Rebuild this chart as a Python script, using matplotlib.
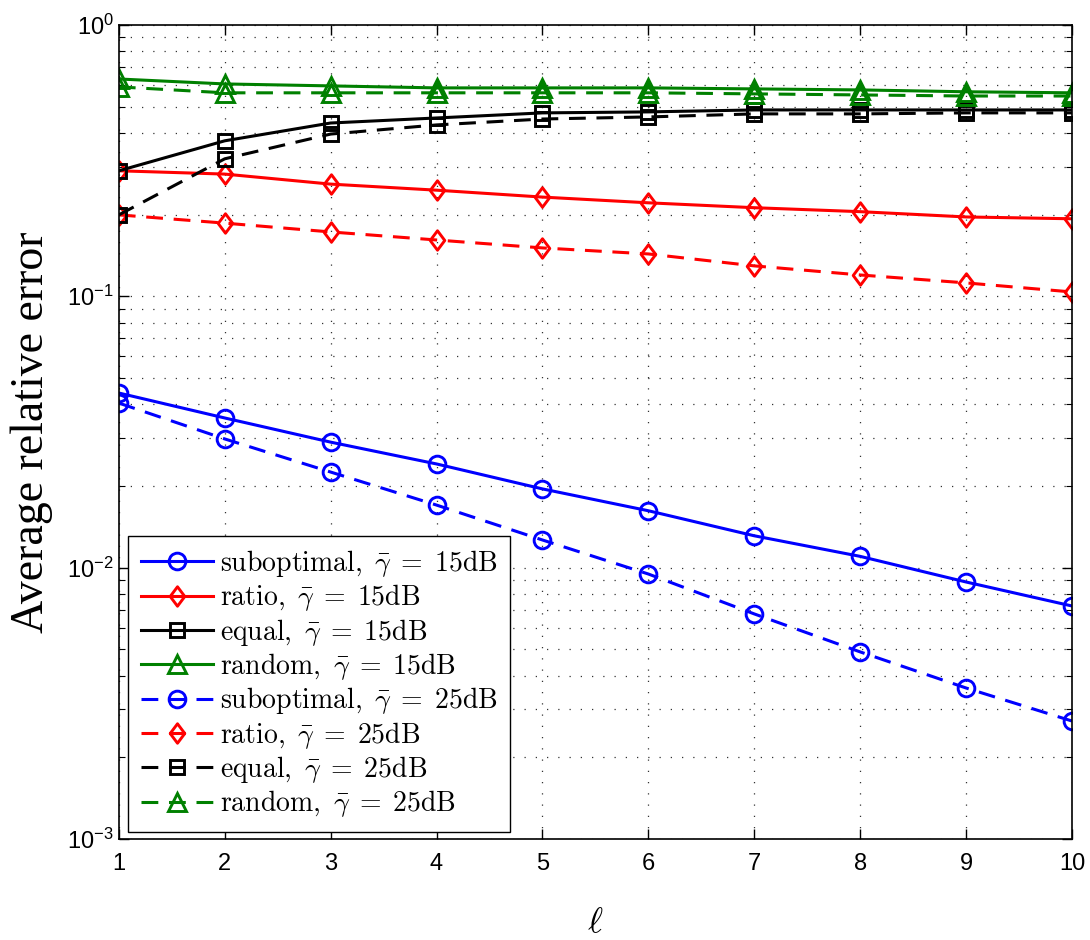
import matplotlib
matplotlib.use('Agg')
import matplotlib.pyplot as plt
from matplotlib.path import Path
import numpy as np

plt.rcParams['font.family'] = ['Liberation Sans', 'DejaVu Sans']
plt.rcParams['mathtext.fontset'] = 'cm'

# data
ell = [1, 2, 3, 4, 5, 6, 7, 8, 9, 10]

subopt_15 = [0.0440, 0.0356, 0.0290, 0.0241, 0.0195, 0.0162, 0.0131, 0.0110, 0.00885, 0.00722]
ratio_15 = [0.290, 0.282, 0.259, 0.246, 0.232, 0.221, 0.212, 0.205, 0.196, 0.193]
equal_15 = [0.290, 0.374, 0.435, 0.454, 0.474, 0.478, 0.486, 0.486, 0.486, 0.486]
random_15 = [0.632, 0.606, 0.596, 0.586, 0.586, 0.586, 0.581, 0.576, 0.567, 0.562]

subopt_25 = [0.0404, 0.0298, 0.0225, 0.0170, 0.01264, 0.00947, 0.00675, 0.00489, 0.00360, 0.00272]
ratio_25 = [0.1995, 0.186, 0.1726, 0.1612, 0.1507, 0.1432, 0.1294, 0.1198, 0.1120, 0.1037]
equal_25 = [0.1995, 0.321, 0.396, 0.428, 0.450, 0.458, 0.470, 0.470, 0.474, 0.474]
random_25 = [0.591, 0.562, 0.562, 0.562, 0.562, 0.562, 0.557, 0.552, 0.547, 0.547]

schemes = ['suboptimal', 'ratio', 'equal', 'random']
labels_15 = [r'$\mathrm{%s},\ \bar{\gamma}\;=\;15\mathrm{dB}$' % s for s in schemes]
labels_25 = [r'$\mathrm{%s},\ \bar{\gamma}\;=\;25\mathrm{dB}$' % s for s in schemes]

# diamond a bit wider than matplotlib's thin one, like matlab's
diamond = Path([(0, 1), (0.75, 0), (0, -1), (-0.75, 0), (0, 1)],
               [Path.MOVETO, Path.LINETO, Path.LINETO, Path.LINETO, Path.CLOSEPOLY])

colors = ['#0000ff', '#ff0000', '#000000', '#008000']
markers = ['o', diamond, 's', '^']
msizes = [12, 14, 9.5, 12.5]

fig = plt.figure(figsize=(10.9, 9.4), dpi=100)
ax = fig.add_axes([0.109, 0.1075, 0.8745, 0.866])

for ys, lab, c, m, ms in zip([subopt_15, ratio_15, equal_15, random_15], labels_15, colors, markers, msizes):
    ax.plot(ell, ys, '-', color=c, lw=2.2, marker=m, ms=ms, mew=2.1, mfc='none', label=lab)
for ys, lab, c, m, ms in zip([subopt_25, ratio_25, equal_25, random_25], labels_25, colors, markers, msizes):
    ax.plot(ell, ys, '--', color=c, lw=2.2, dashes=(5.5, 3.5), marker=m, ms=ms, mew=2.1, mfc='none', label=lab)

ax.set_yscale('log')
ax.set_xlim(1, 10)
ax.set_ylim(1e-3, 1)
ax.set_xticks(range(1, 11))

grid_ls = (0, (1, 8))
ax.grid(True, which='major', axis='both', ls=grid_ls, color='#333333', lw=0.9)
ax.grid(True, which='minor', axis='y', ls=grid_ls, color='#333333', lw=0.9)
ax.minorticks_on()
ax.xaxis.set_minor_locator(matplotlib.ticker.NullLocator())
ax.tick_params(which='both', direction='in', top=True, right=True, labelsize=17)
ax.tick_params(which='major', length=7, width=1)
ax.tick_params(which='minor', length=4, width=0.8)
ax.tick_params(axis='x', pad=10)
for s in ax.spines.values():
    s.set_linewidth(1.2)

ax.set_xlabel(r'$\ell$', fontsize=26, labelpad=22)
ax.set_ylabel('Average relative error', fontsize=33, family='Liberation Serif', labelpad=10)

leg = ax.legend(loc='lower left', bbox_to_anchor=(0.0098, 0.0086), borderaxespad=0,
                fontsize=20, handlelength=2.6, handletextpad=0.25, labelspacing=0.12,
                borderpad=0.45, fancybox=False, edgecolor='k', framealpha=1)
leg.get_frame().set_linewidth(1.0)

fig.savefig('out.png', dpi=100)
